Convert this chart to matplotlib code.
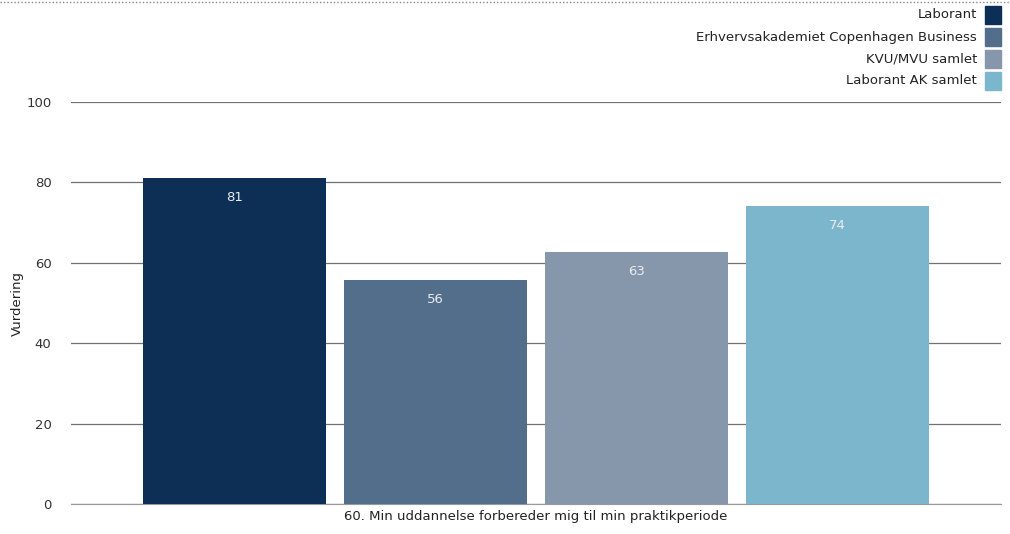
import numpy as np
import matplotlib.pyplot as plt
from matplotlib.patches import Rectangle
from matplotlib.lines import Line2D

series = ['Laborant', 'Erhvervsakademiet Copenhagen Business', 'KVU/MVU samlet', 'Laborant AK samlet']
values = [81.1, 55.7, 62.7, 74.1]
labels = ['81', '56', '63', '74']
colors = ['#0d2f56', '#536e8a', '#8797ab', '#7cb6cc']
category = '60. Min uddannelse forbereder mig til min praktikperiode'
yticks = [0, 20, 40, 60, 80, 100]

W, H = 1010, 534
fig = plt.figure(figsize=(W / 100, H / 100), dpi=100)
ax = fig.add_axes([71 / W, (H - 504) / H, 930 / W, (504 - 102) / H])

x = np.arange(len(values))
ax.bar(x, values, width=0.91, color=colors, zorder=3)
for xi, v, lab in zip(x, values, labels):
    ax.text(xi, v - 4.8, lab, ha='center', va='center', color='#e8ecf0', fontsize=9.5, zorder=4)

ax.set_xlim(-0.813, 3.813)
ax.set_ylim(0, 100)
ax.set_yticks(yticks)
ax.set_xticks([])
ax.grid(axis='y', color='#707070', linewidth=0.9, zorder=0)
for s in ['top', 'right', 'left']:
    ax.spines[s].set_visible(False)
ax.spines['bottom'].set_color('#999999')
ax.tick_params(axis='y', length=0, pad=14, labelsize=9.5, labelcolor='#333333')
ax.set_ylabel('Vurdering', fontsize=9.5, color='#222222')
ax.yaxis.set_label_coords(-47 / 930, 0.5)
ax.set_xlabel(category, fontsize=9.5, color='#222222', labelpad=4)

# dotted line across the top
fig.add_artist(Line2D([0, 1], [1 - 2 / H, 1 - 2 / H], transform=fig.transFigure,
                      color='#888888', linewidth=1, linestyle=(0, (1, 1.5))))

# legend at top right
for i, (name, c) in enumerate(zip(series, colors)):
    yc = 15 + 22 * i
    fig.add_artist(Rectangle((985 / W, 1 - (yc + 9) / H), 16 / W, 18 / H,
                             transform=fig.transFigure, color=c))
    fig.text(977 / W, 1 - yc / H, name, ha='right', va='center', fontsize=9.5, color='#222222')

fig.savefig('out.png', dpi=100)
